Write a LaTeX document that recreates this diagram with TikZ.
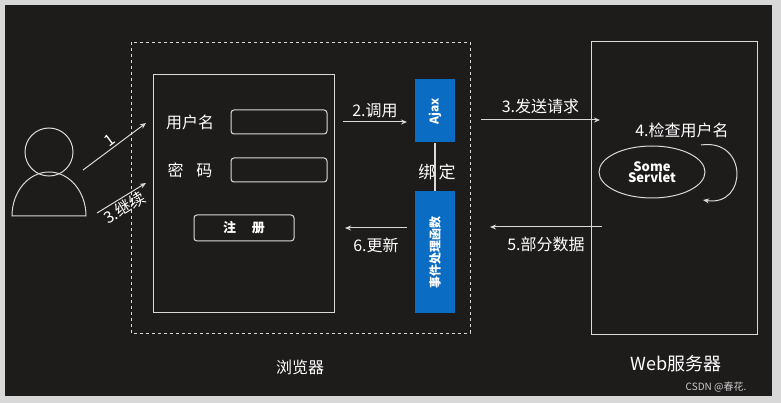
\documentclass[tikz,border=0pt]{standalone}
\usepackage{fontspec}
\setmainfont{Noto Sans CJK SC}
\usetikzlibrary{arrows.meta,calc,shapes,positioning}
\definecolor{bgdark}{HTML}{1E1B1B}
\definecolor{frameg}{HTML}{D8D8D8}
\definecolor{ajaxblue}{HTML}{0A6CC2}
\tikzset{wline/.style={draw=white!85!black,line width=1pt},
	flow/.style={wline,-{Stealth[length=6pt,width=5pt]}},
	lbl/.style={font=\fontsize{16}{18}\selectfont,inner sep=1pt}}
\begin{document}
\begin{tikzpicture}[x=1pt,y=-1pt,font=\fontsize{16}{18}\selectfont,text=white,
	field/.style={wline,rounded corners=3pt},
	bluebox/.style={fill=ajaxblue,draw=none}]
	\useasboundingbox (0,0) rectangle (781,403);
	\fill[frameg] (0,0) rectangle (781,403);
	\fill[bgdark] (5,5) rectangle (772,396);
	
	% browser side
	\draw[wline,dashed,line width=0.8pt] (131,42) rectangle (470,333);
	\draw[wline] (153,75) rectangle (334,312);
	\node[lbl] (user) at (190,122) {用户名};
	\draw[field] (231,110) rectangle (327,134);
	\node[lbl] (pwd) at (190,170) {密\hspace{0.8em}码};
	\draw[field] (231,158) rectangle (327,182);
	\draw[field] (194,215) rectangle (294,241);
	\node[font=\bfseries\fontsize{13}{15}\selectfont] (reg) at (244,228) {注\hspace{1.2em}册};
	
	\node[bluebox,minimum width=40,minimum height=63] (ajax) at (435,111) {};
	\node[rotate=90,font=\bfseries\fontsize{12}{14}\selectfont] at (ajax) {Ajax};
	\node[bluebox,minimum width=40,minimum height=121] (handler) at (435,252) {};
	\node[rotate=90,font=\bfseries\fontsize{12}{14}\selectfont] at (handler) {事件处理函数};
	\draw[wline,line width=1.5pt] (ajax.south) -- (handler.north);
	\node[lbl,font=\fontsize{17}{19}\selectfont] (bind) at (437,172) {绑\hspace{0.2em}定};
	
	\coordinate (callA) at (343,122);
	\coordinate (callB) at (407,122);
	\draw[flow] (callA) -- node[lbl,above=3pt] {2.调用} (callB);
	\coordinate (updA) at (407,228);
	\coordinate (updB) at (345,228);
	\draw[flow] (updA) -- node[lbl,below=8pt] {6.更新} (updB);
	
	% user
	\draw[wline] (49,152) circle (24);
	\draw[wline] (12,216) arc (180:360:37 and 44) -- cycle;
	\coordinate (u1) at (83,170);
	\coordinate (f1) at (146,123);
	\draw[flow] (u1) -- node[lbl,above=1pt,sloped] {1} (f1);
	\coordinate (u3) at (97,213);
	\coordinate (f3) at (146,183);
	\draw[flow] (u3) -- node[lbl,below=1pt,sloped,pos=0.45] {3.继续} (f3);
	
	% server side
	\draw[wline] (591,42) rectangle (757,334);
	\coordinate (reqA) at (481,120);
	\coordinate (reqB) at (600,120);
	\draw[flow] (reqA) -- node[lbl,above=5pt] {3.发送请求} (reqB);
	\node[lbl] (check) at (682,130) {4.检查用户名};
	\node[ellipse,wline,minimum width=106,minimum height=52,inner sep=0pt,
		font=\bfseries\fontsize{13}{14}\selectfont,align=center] (servlet) at (652,172) {Some\\[-3pt]Servlet};
	\coordinate (loopA) at (701,145);
	\coordinate (loopB) at (703,200);
	\draw[flow] (loopA) .. controls (748,138) and (748,207) .. (loopB);
	\coordinate (partA) at (602,227);
	\coordinate (partB) at (490,227);
	\draw[flow] (partA) -- node[lbl,below=8pt] {5.部分数据} (partB);
	
	\node[lbl] (browser) at (300,367) {浏览器};
	\node[lbl,font=\fontsize{18}{20}\selectfont] (web) at (676,364) {Web服务器};
	\node[font=\fontsize{10}{12}\selectfont,text=white!80!black] (mark) at (716,387) {CSDN @春花.};
\end{tikzpicture}
\end{document}
